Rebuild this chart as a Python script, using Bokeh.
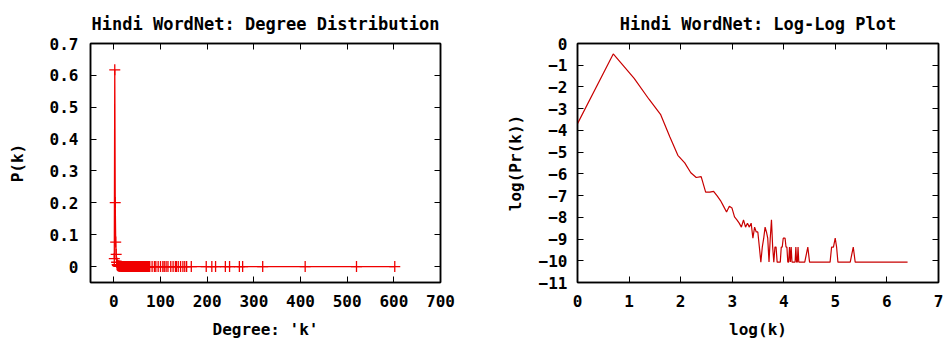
import numpy as np
from bokeh.plotting import figure
from bokeh.layouts import row
from bokeh.models import LinearAxis, FixedTicker, Range1d
from bokeh.embed import file_html
from bokeh.resources import INLINE

# ---- data: node degree k and number of nodes with that degree ----
degree = list(range(1, 78)) + [82, 87, 90, 95, 100, 105, 108, 112, 116, 122, 127, 132,
                               134, 138, 143, 148, 152, 156, 166, 198, 210, 218, 239,
                               248, 269, 276, 319, 410, 520, 602]
node_count = [584, 14450, 4700, 1800, 900, 316, 136, 96, 61, 49,
              51, 25, 25, 26, 21, 17, 13, 10, 13, 12,
              8, 7, 6, 5, 7, 5, 6, 5, 6, 3,
              5, 4, 4, 2, 1, 2, 3, 5, 4, 3,
              1, 3, 7, 2, 1, 2, 2, 1, 1, 1,
              1, 2, 2, 3, 3, 3, 2, 2, 1, 1,
              2, 1, 2, 1, 1, 1, 1, 1, 2, 1,
              1, 2, 1, 1, 1, 1, 1] + [1, 2, 1, 1, 1, 1, 1, 1, 1, 1, 1, 1,
                                       1, 2, 2, 3, 2, 1, 1, 1, 2, 1, 1,
                                       1, 1, 1, 1, 1, 1, 1]
total_nodes = 23400

deg_x_ticks = [0, 100, 200, 300, 400, 500, 600, 700]
prob_y_ticks = [0, 0.1, 0.2, 0.3, 0.4, 0.5, 0.6, 0.7]
prob_y_labels = ["0", "0.1", "0.2", "0.3", "0.4", "0.5", "0.6", "0.7"]
log_x_ticks = [0, 1, 2, 3, 4, 5, 6, 7]
log_y_ticks = [0, -1, -2, -3, -4, -5, -6, -7, -8, -9, -10, -11]

prob = np.array(node_count, dtype=float) / total_nodes
log_k = np.log(np.array(degree, dtype=float))
log_p = np.log(prob)

FONT = "DejaVu Sans Mono"
FS = "16px"
TITLE_FS = "17px"


def style_axes(p, xt, yt):
    bottom = p.below[0]
    left = p.left[0]
    bottom.ticker = FixedTicker(ticks=xt)
    left.ticker = FixedTicker(ticks=yt)
    top = LinearAxis(ticker=FixedTicker(ticks=xt))
    right = LinearAxis(ticker=FixedTicker(ticks=yt))
    top.major_label_overrides = {t: "" for t in xt}
    right.major_label_overrides = {t: "" for t in yt}
    p.add_layout(top, "above")
    p.add_layout(right, "right")
    for ax in (bottom, left, top, right):
        ax.major_tick_in = 6
        ax.major_tick_out = 0
        ax.minor_tick_line_color = None
        ax.major_tick_line_color = "black"
        ax.major_tick_line_width = 1
        ax.axis_line_color = "black"
        ax.axis_line_width = 1.5
        ax.major_label_text_font = FONT
        ax.major_label_text_font_style = "bold"
        ax.major_label_text_font_size = FS
        ax.major_label_text_color = "black"
        ax.axis_label_text_font = FONT
        ax.axis_label_text_font_style = "bold"
        ax.axis_label_text_font_size = FS
        ax.axis_label_text_color = "black"
    for ax in (top, right):
        ax.major_label_text_font_size = "1px"
        ax.major_label_standoff = 0
    p.grid.visible = False
    p.outline_line_color = "black"
    p.outline_line_width = 1.5
    p.title.text_font = FONT
    p.title.text_font_style = "bold"
    p.title.text_font_size = TITLE_FS
    p.title.text_color = "black"
    p.title.align = "center"
    p.title.standoff = 20
    p.background_fill_color = "white"
    p.border_fill_color = "white"
    return bottom, left


# ---- left: degree distribution ----
p1 = figure(frame_width=350, frame_height=239,
            min_border_left=90, min_border_right=30, min_border_top=43, min_border_bottom=58,
            x_range=Range1d(-50, 700), y_range=Range1d(-0.05, 0.7),
            title="Hindi WordNet: Degree Distribution",
            x_axis_label="Degree: 'k'", y_axis_label="P(k)",
            output_backend="svg", toolbar_location=None)
p1.line(degree, prob, line_color="#f00000", line_width=1.3)
p1.scatter(degree, prob, marker="cross", size=11, line_color="#f00000", line_width=1.3)
b1, l1 = style_axes(p1, deg_x_ticks, prob_y_ticks)
l1.major_label_overrides = {t: l for t, l in zip(prob_y_ticks, prob_y_labels)}
b1.major_label_standoff = 12
b1.axis_label_standoff = 10
l1.major_label_standoff = 12
l1.axis_label_standoff = 20

# ---- right: log-log plot ----
p2 = figure(frame_width=361, frame_height=239,
            min_border_left=107, min_border_right=6, min_border_top=43, min_border_bottom=58,
            x_range=Range1d(0, 7), y_range=Range1d(-11, 0),
            title="Hindi WordNet: Log-Log Plot",
            x_axis_label="log(k)", y_axis_label="log(Pr(k))",
            output_backend="svg", toolbar_location=None)
p2.line(log_k, log_p, line_color="#c80000", line_width=1.2)
b2, l2 = style_axes(p2, log_x_ticks, log_y_ticks)
b2.major_label_standoff = 12
b2.axis_label_standoff = 10
l2.major_label_standoff = 10
l2.axis_label_standoff = 11

layout = row(p1, p2, spacing=0)
open("out.html", "w").write(file_html(layout, INLINE))
